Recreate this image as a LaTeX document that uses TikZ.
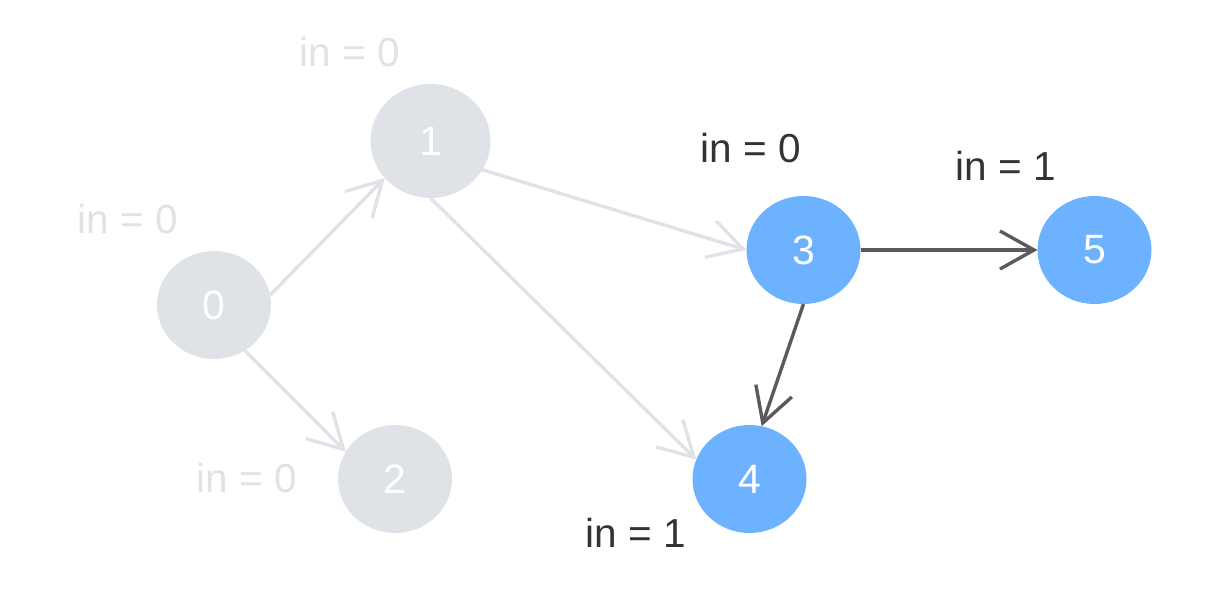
\documentclass[tikz,border=0pt]{standalone}
\usepackage{fontspec}
\setmainfont{Liberation Sans}
\usetikzlibrary{arrows.meta,shapes.geometric}
\definecolor{nodegray}{HTML}{DFE2E7}
\definecolor{nodeblue}{HTML}{6DB2FF}
\definecolor{edgegray}{HTML}{E0E2E7}
\definecolor{edgedark}{HTML}{5A5A5A}
\definecolor{textdark}{HTML}{333333}
\begin{document}
\begin{tikzpicture}[x=1pt,y=-1pt,
  vert/.style={ellipse,minimum width=114pt,minimum height=108pt,inner sep=0pt,outer sep=0pt,text=white,font=\fontsize{41}{41}\selectfont},
  done/.style={vert,fill=nodegray},
  live/.style={vert,fill=nodeblue},
  lbl/.style={anchor=base,inner sep=0pt,font=\fontsize{40.5}{40.5}\selectfont},
  lightlbl/.style={lbl,text=edgegray},
  darklbl/.style={lbl,text=textdark},
  edge/.style={line width=3.4pt,-{Straight Barb[length=34pt,width=38pt,sharp]}},
  oldedge/.style={edge,draw=edgegray},
  newedge/.style={edge,draw=edgedark}]
\useasboundingbox (0,0) rectangle (1221,591);
\node[done] (n0) at (214,305) {0};
\node[done,minimum width=120pt,minimum height=114pt] (n1) at (430.5,141) {1};
\node[done] (n2) at (395,479) {2};
\node[live] (n3) at (803.5,250) {3};
\node[live] (n4) at (749.5,479) {4};
\node[live] (n5) at (1094.5,250) {5};
\node[lightlbl] (l1) at (349.5,67) {in = 0};
\node[lightlbl] (l0) at (127.5,233) {in = 0};
\node[lightlbl] (l2) at (247,492) {in = 0};
\node[darklbl] (l3) at (751,163) {in = 0};
\node[darklbl] (l5) at (1005.5,180) {in = 1};
\node[darklbl] (l4) at (635.5,547) {in = 1};
\draw[oldedge] (n0.10) -- (n1.219);
\draw[oldedge] (n0.-56) -- (n2.151);
\draw[oldedge] (n1.-29) -- (n3.west);
\draw[oldedge] (n1.south) -- (n4.160);
\draw[newedge] (n3.east) -- (n5.west);
\draw[newedge] (n3.south) -- (n4.77);
\end{tikzpicture}
\end{document}
